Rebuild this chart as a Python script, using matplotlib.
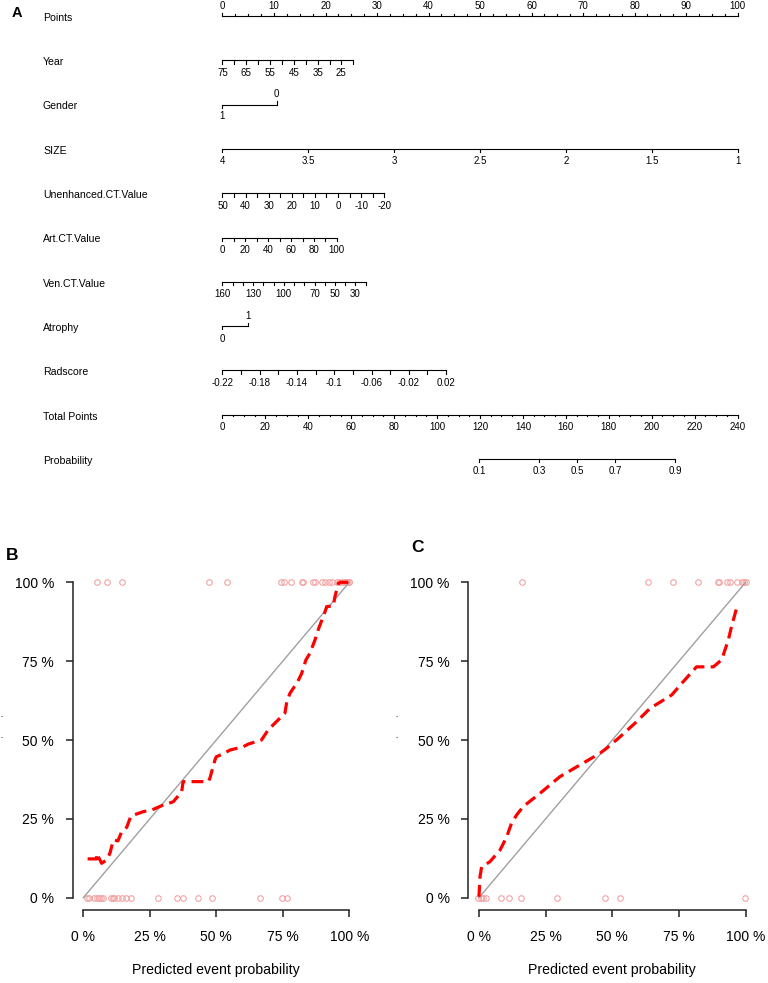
import numpy as np
import matplotlib
matplotlib.use("Agg")
import matplotlib.pyplot as plt

plt.rcParams['font.family'] = ['Liberation Sans', 'DejaVu Sans']
plt.rcParams['lines.scale_dashes'] = False

# ---------------- Nomogram data ----------------
points_ticks = np.arange(0, 100.01, 2.5)
points_labels = np.arange(0, 101, 10)

year_ticks = np.arange(75, 19, -5)
year_labels = [75, 65, 55, 45, 35, 25]
year_ends = (75, 20)          # values at the two ends
year_pts = (0, 25.4)          # points at the two ends

gender_levels = ['1', '0']
gender_pts = [0, 10.5]

size_ticks = [4, 3.5, 3, 2.5, 2, 1.5, 1]
size_ends = (4, 1)
size_pts = (0, 100)

unenh_ticks = np.arange(50, -21, -5)
unenh_labels = [50, 40, 30, 20, 10, 0, -10, -20]
unenh_ends = (50, -20)
unenh_pts = (0, 31.4)

art_ticks = np.arange(0, 101, 10)
art_labels = [0, 20, 40, 60, 80, 100]
art_ends = (0, 100)
art_pts = (0, 22.2)

ven_ticks = np.arange(160, 19, -10)
ven_labels = [160, 130, 100, 70, 50, 30]
ven_ends = (160, 20)
ven_pts = (0, 27.8)

atrophy_levels = ['0', '1']
atrophy_pts = [0, 4.9]

rad_ticks = np.round(np.arange(-0.22, 0.0201, 0.02), 2)
rad_labels = [-0.22, -0.18, -0.14, -0.1, -0.06, -0.02, 0.02]
rad_ends = (-0.22, 0.02)
rad_pts = (0, 43.4)

total_ticks = np.arange(0, 241, 5)
total_labels = np.arange(0, 241, 20)
total_max = 240

prob_labels = [0.1, 0.3, 0.5, 0.7, 0.9]
lp_intercept = -7.956
lp_slope = 0.04813

# ---------------- Calibration data ----------------
b_top = [0.053, 0.088, 0.144, 0.471, 0.540, 0.743, 0.756, 0.78, 0.821, 0.827, 0.862, 0.87,
         0.897, 0.909, 0.924, 0.935, 0.955, 0.962, 0.971, 0.979, 0.986, 0.993, 0.998, 1.0]
b_bottom = [0.015, 0.023, 0.041, 0.05, 0.06, 0.067, 0.073, 0.103, 0.11, 0.117, 0.132, 0.147,
            0.16, 0.179, 0.281, 0.353, 0.375, 0.431, 0.485, 0.665, 0.746, 0.767]
b_curve_x = [0.016, 0.05, 0.05, 0.069, 0.088, 0.10, 0.113, 0.13, 0.144, 0.163, 0.179, 0.226,
             0.257, 0.301, 0.338, 0.37, 0.375, 0.47, 0.476, 0.495, 0.5, 0.526, 0.551, 0.602,
             0.62, 0.67, 0.695, 0.733, 0.758, 0.765, 0.777, 0.806, 0.821, 0.837, 0.852, 0.871,
             0.883, 0.909, 0.915, 0.94, 0.946, 0.959, 0.965, 0.997]
b_curve_y = [0.123, 0.123, 0.14, 0.109, 0.12, 0.141, 0.183, 0.18, 0.209, 0.223, 0.259, 0.273,
             0.278, 0.294, 0.304, 0.336, 0.368, 0.368, 0.379, 0.437, 0.447, 0.456, 0.468, 0.479,
             0.487, 0.5, 0.532, 0.564, 0.585, 0.621, 0.648, 0.685, 0.711, 0.754, 0.775, 0.817,
             0.849, 0.907, 0.923, 0.925, 0.954, 0.997, 1.0, 1.0]

c_top = [0.163, 0.634, 0.729, 0.822, 0.897, 0.9, 0.929, 0.941, 0.969, 0.985, 0.994, 1.0]
c_bottom = [-0.003, 0.006, 0.016, 0.025, 0.083, 0.114, 0.159, 0.291, 0.474, 0.528, 0.999]
c_curve_x = [0.0, 0.004, 0.01, 0.041, 0.079, 0.104, 0.122, 0.141, 0.166, 0.229, 0.304, 0.379,
             0.454, 0.479, 0.529, 0.591, 0.641, 0.723, 0.766, 0.816, 0.879, 0.91, 0.935, 0.947,
             0.966]
c_curve_y = [0.003, 0.067, 0.098, 0.114, 0.151, 0.193, 0.236, 0.262, 0.289, 0.331, 0.384, 0.421,
             0.458, 0.474, 0.51, 0.558, 0.6, 0.643, 0.685, 0.732, 0.732, 0.754, 0.817, 0.859,
             0.918]
cal_ticks = [0, 0.25, 0.5, 0.75, 1.0]
cal_ticklabels = ['0 %', '25 %', '50 %', '75 %', '100 %']

# ---------------- Figure ----------------
W, H = 768, 983
fig = plt.figure(figsize=(W / 100, H / 100), dpi=100)

# nomogram axes: x in points units, y in pixel rows
NOM_H = 490
px_per_pt = 5.15
x0_px = 222.5
axn = fig.add_axes([0, 1 - NOM_H / H, 1, NOM_H / H])
axn.set_xlim(-x0_px / px_per_pt, (W - x0_px) / px_per_pt)
axn.set_ylim(NOM_H, 0)
axn.axis('off')

row0, dy = 16.0, 44.3
lab_x = (43 - x0_px) / px_per_pt
LW = 0.8
TK = 3.3
TKm = 1.6
fs_lab = 7.6
fs_tick = 7.0


def lin(v, ends, pts):
    v = np.asarray(v, dtype=float)
    return pts[0] + (v - ends[0]) * (pts[1] - pts[0]) / (ends[1] - ends[0])


def fmt(v):
    return '%g' % v


def cont_axis(y, tick_pts, label_pts, labels, up=False, minor_pts=None):
    axn.plot([min(tick_pts), max(tick_pts)], [y, y], color='black', lw=LW)
    sgn = -1 if up else 1
    for p in tick_pts:
        axn.plot([p, p], [y, y + sgn * TK], color='black', lw=LW)
    if minor_pts is not None:
        for p in minor_pts:
            axn.plot([p, p], [y, y + sgn * TKm], color='black', lw=LW)
    for p, l in zip(label_pts, labels):
        axn.text(p, y + (-9.6 if up else 12.5), l, ha='center', va='center', fontsize=fs_tick)


def row_label(i, txt):
    axn.text(lab_x, row0 + dy * i + 1.8, txt, ha='left', va='center', fontsize=fs_lab)


names = ['Points', 'Year', 'Gender', 'SIZE', 'Unenhanced.CT.Value', 'Art.CT.Value',
         'Ven.CT.Value', 'Atrophy', 'Radscore', 'Total Points', 'Probability']
for i, n in enumerate(names):
    row_label(i, n)

# Points
y = row0
major = points_labels
minor = [p for p in points_ticks if p % 10 != 0]
cont_axis(y, major, major, [fmt(v) for v in points_labels], up=True, minor_pts=minor)

# Year
y = row0 + dy
cont_axis(y, lin(year_ticks, year_ends, year_pts), lin(year_labels, year_ends, year_pts),
          [fmt(v) for v in year_labels])

# Gender
y = row0 + 2 * dy
axn.plot(gender_pts, [y, y], color='black', lw=LW)
axn.plot([gender_pts[0]] * 2, [y, y + TK], color='black', lw=LW)
axn.plot([gender_pts[1]] * 2, [y, y - TK], color='black', lw=LW)
axn.text(gender_pts[0], y + 11.8, gender_levels[0], ha='center', va='center', fontsize=fs_tick)
axn.text(gender_pts[1], y - 10.3, gender_levels[1], ha='center', va='center', fontsize=fs_tick)

# SIZE
y = row0 + 3 * dy
cont_axis(y, lin(size_ticks, size_ends, size_pts), lin(size_ticks, size_ends, size_pts),
          [fmt(v) for v in size_ticks])

# Unenhanced
y = row0 + 4 * dy
cont_axis(y, lin(unenh_ticks, unenh_ends, unenh_pts), lin(unenh_labels, unenh_ends, unenh_pts),
          [fmt(v) for v in unenh_labels])

# Art
y = row0 + 5 * dy
cont_axis(y, lin(art_ticks, art_ends, art_pts), lin(art_labels, art_ends, art_pts),
          [fmt(v) for v in art_labels])

# Ven
y = row0 + 6 * dy
cont_axis(y, lin(ven_ticks, ven_ends, ven_pts), lin(ven_labels, ven_ends, ven_pts),
          [fmt(v) for v in ven_labels])

# Atrophy
y = row0 + 7 * dy
axn.plot(atrophy_pts, [y, y], color='black', lw=LW)
axn.plot([atrophy_pts[0]] * 2, [y, y + TK], color='black', lw=LW)
axn.plot([atrophy_pts[1]] * 2, [y, y - TK], color='black', lw=LW)
axn.text(atrophy_pts[0], y + 12.6, atrophy_levels[0], ha='center', va='center', fontsize=fs_tick)
axn.text(atrophy_pts[1], y - 9.7, atrophy_levels[1], ha='center', va='center', fontsize=fs_tick)

# Radscore
y = row0 + 8 * dy
cont_axis(y, lin(rad_ticks, rad_ends, rad_pts), lin(rad_labels, rad_ends, rad_pts),
          [fmt(v) for v in rad_labels])

# Total points
y = row0 + 9 * dy
tp2pts = 100.0 / total_max
tmaj = [t * tp2pts for t in total_labels]
tmin = [t * tp2pts for t in total_ticks if t % 20 != 0]
cont_axis(y, tmaj, tmaj, [fmt(v) for v in total_labels], minor_pts=tmin)

# Probability
y = row0 + 10 * dy
prob_tp = [(np.log(p / (1 - p)) - lp_intercept) / lp_slope for p in prob_labels]
prob_pos = [t * tp2pts for t in prob_tp]
cont_axis(y, prob_pos, prob_pos, [fmt(v) for v in prob_labels])

fig.text(12 / W, 1 - 13 / H, 'A', fontsize=10.5, fontweight='bold', ha='left', va='center')

# ---------------- Calibration plots ----------------
top_px, bot_px = 569.7, 910.3


def cal_panel(left_px, right_px, top, bottom, curve_x, curve_y, letter, letter_xy, stub_x):
    ax = fig.add_axes([left_px / W, 1 - bot_px / H, (right_px - left_px) / W, (bot_px - top_px) / H])
    ax.set_xlim(-0.04, 1.04)
    ax.set_ylim(-0.04, 1.04)
    ax.plot([0, 1], [0, 1], color='#a0a0a0', lw=1.0, zorder=2)
    ax.plot(top, [1.0] * len(top), 'o', mfc='none', mec='#f4a3a3', ms=4.0, mew=0.8, zorder=1)
    ax.plot(bottom, [0.0] * len(bottom), 'o', mfc='none', mec='#f4a3a3', ms=4.0, mew=0.8, zorder=1)
    ax.plot(curve_x, curve_y, color='#ff0000', lw=2.3, dashes=(8.5, 4.5), zorder=3,
            solid_capstyle='butt', dash_capstyle='butt')
    for s in ['top', 'right']:
        ax.spines[s].set_visible(False)
    ax.spines['left'].set_bounds(0, 1)
    ax.spines['bottom'].set_bounds(0, 1)
    for s in ['left', 'bottom']:
        ax.spines[s].set_linewidth(1.1)
        ax.spines[s].set_color('#222222')
    ax.set_xticks(cal_ticks)
    ax.set_xticklabels(cal_ticklabels)
    ax.set_yticks(cal_ticks)
    ax.set_yticklabels(cal_ticklabels)
    ax.tick_params(axis='both', direction='out', length=5, width=1.1, color='#222222',
                   labelsize=10)
    ax.tick_params(axis='x', pad=9)
    ax.tick_params(axis='y', pad=8.5)
    ax.set_xlabel('Predicted event probability', fontsize=10.2, labelpad=14)
    ax.patch.set_visible(False)
    fig.text(letter_xy[0] / W, 1 - letter_xy[1] / H, letter, fontsize=12.5,
             fontweight='bold', ha='left', va='center')
    # small residual marks of a clipped y-axis title at the left edge
    for yy in (717, 738):
        fig.text(stub_x / W, 1 - yy / H, '-', fontsize=5, ha='center', va='center',
                 color='#333333')
    return ax


cal_panel(72.7, 359.9, b_top, b_bottom, b_curve_x, b_curve_y, 'B', (6, 555), 2)
cal_panel(468.3, 756.3, c_top, c_bottom, c_curve_x, c_curve_y, 'C', (411, 548), 397)

fig.savefig('out.png', dpi=100)
